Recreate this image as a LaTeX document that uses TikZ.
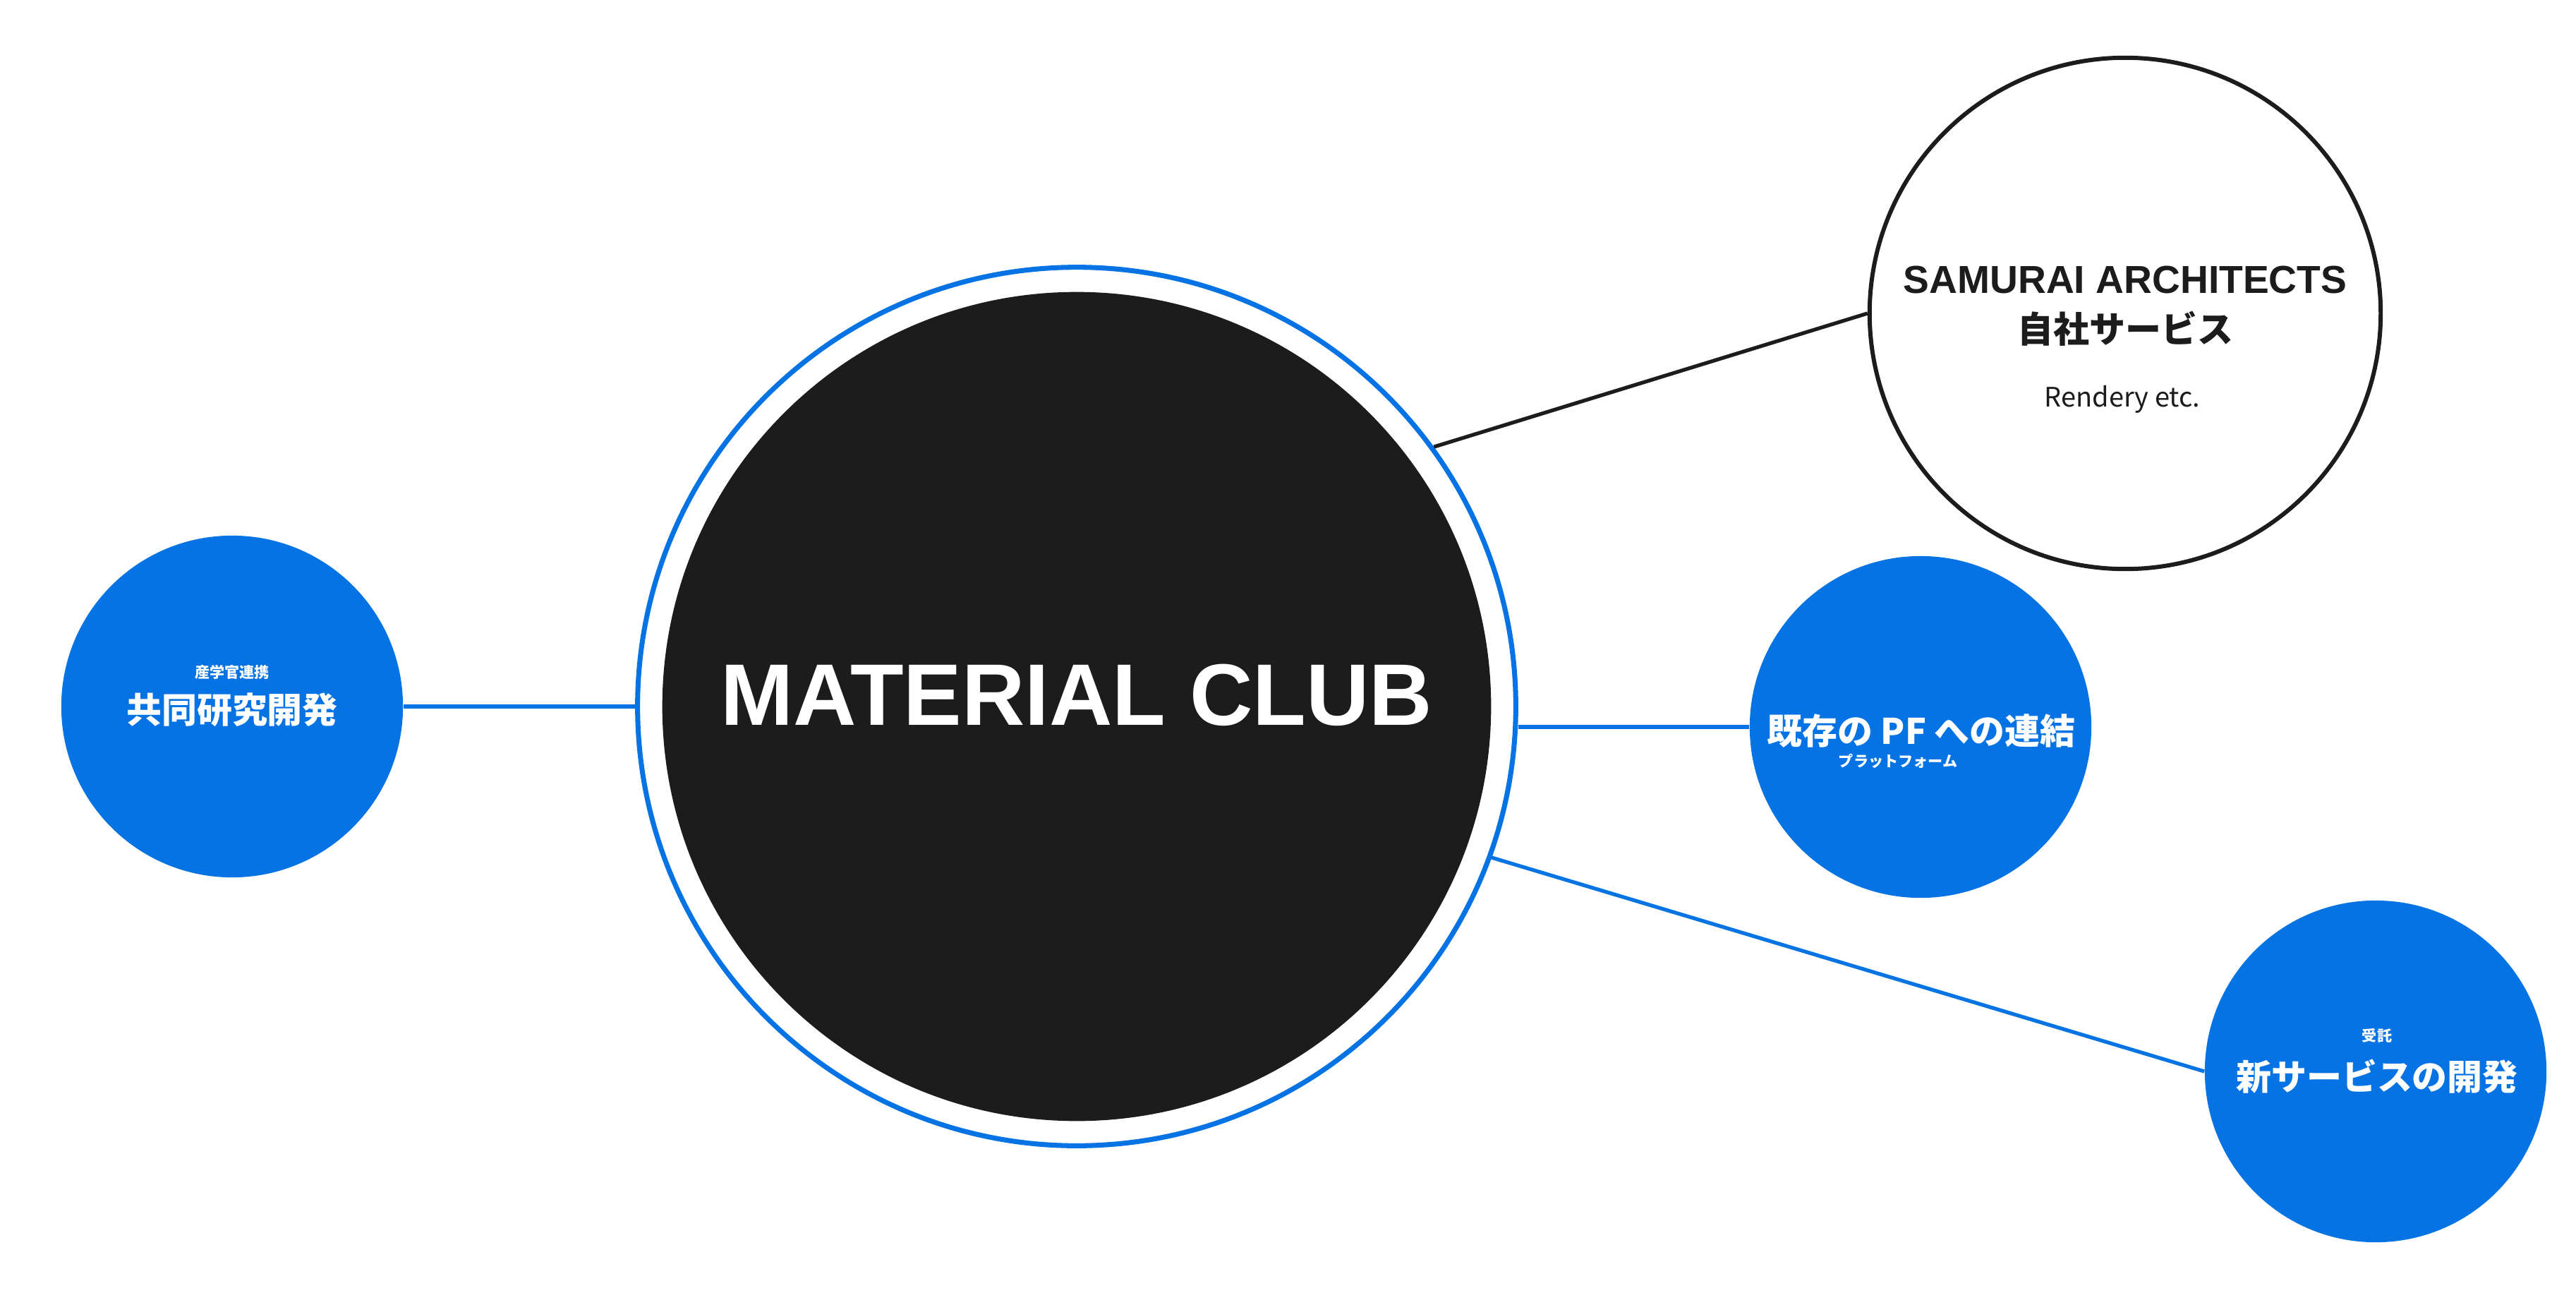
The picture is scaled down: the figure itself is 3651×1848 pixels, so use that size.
\documentclass[tikz,border=0pt]{standalone}
\usepackage{fontspec}
\usepackage{tikz}
\usetikzlibrary{positioning}
\newfontfamily\jpfont{Noto Sans CJK JP}
\newfontfamily\helvfont{Liberation Sans}
\definecolor{mcblue}{HTML}{0573E3}
\definecolor{mcblack}{HTML}{1C1C1C}
\tikzset{
  ring/.style={circle,draw=mcblue,line width=2pt,fill=white,minimum size=12.44cm,inner sep=0pt},
  core/.style={circle,fill=mcblack,minimum size=11.74cm,inner sep=0pt},
  bubble/.style={circle,fill=mcblue,minimum size=4.84cm,inner sep=0pt},
  outline/.style={circle,draw=mcblack,line width=1.7pt,fill=white,minimum size=7.24cm,inner sep=0pt},
  bluelink/.style={draw=mcblue,line width=1.5pt},
  blacklink/.style={draw=mcblack,line width=1.5pt},
  bigname/.style={inner sep=0pt,text=white,font=\jpfont\bfseries\fontsize{14.2pt}{16pt}\selectfont},
  smallname/.style={inner sep=0pt,text=white,font=\jpfont\bfseries\fontsize{6pt}{7pt}\selectfont}
}

\begin{document}
\begin{tikzpicture}[x=0.01cm,y=-0.01cm]
  \useasboundingbox (0,0) rectangle (3651,1848);

  % centre
  \node[ring] (club) at (1526,1001) {};
  \node[core] (core) at (club) {};
  \node[inner sep=0pt,text=white,font=\helvfont\bfseries\fontsize{35.2pt}{40pt}\selectfont] (clubname) at (1526,985) {MATERIAL CLUB};

  % satellites
  \node[bubble] (joint) at (329,1001) {};
  \node[smallname] (jointsub) at (329,952) {産学官連携};
  \node[bigname] (jointname) at (329,1006) {共同研究開発};

  \node[outline] (samurai) at (3012,444) {};
  \node[inner sep=0pt,text=mcblack,font=\helvfont\bfseries\fontsize{15.7pt}{18pt}\selectfont] (samurainame) at (3012,396) {SAMURAI ARCHITECTS};
  \node[inner sep=0pt,text=mcblack,font=\jpfont\bfseries\fontsize{14.5pt}{16pt}\selectfont] (samuraisub) at (3012,466) {自社サービス};
  \node[inner sep=0pt,text=mcblack,font=\jpfont\fontsize{10.8pt}{12pt}\selectfont] (samuraiex) at (3008,566) {Rendery etc.};

  \node[bubble] (pf) at (2722,1030) {};
  \node[bigname] (pfname) at (2723,1036) {既存の PF への連結};
  \node[smallname] (pfsub) at (2690,1078) {プラットフォーム};

  \node[bubble] (dev) at (3367,1518) {};
  \node[smallname] (devsub) at (3369,1467) {受託};
  \node[bigname] (devname) at (3369,1525) {新サービスの開発};

  % links
  \draw[bluelink] (joint) -- (club);
  \draw[blacklink] (club.36) -- (samurai.west);
  \draw[bluelink] (pf.west -| club.east) -- (pf.west);
  \draw[bluelink] (club.-20) -- (dev.west);
\end{tikzpicture}
\end{document}
